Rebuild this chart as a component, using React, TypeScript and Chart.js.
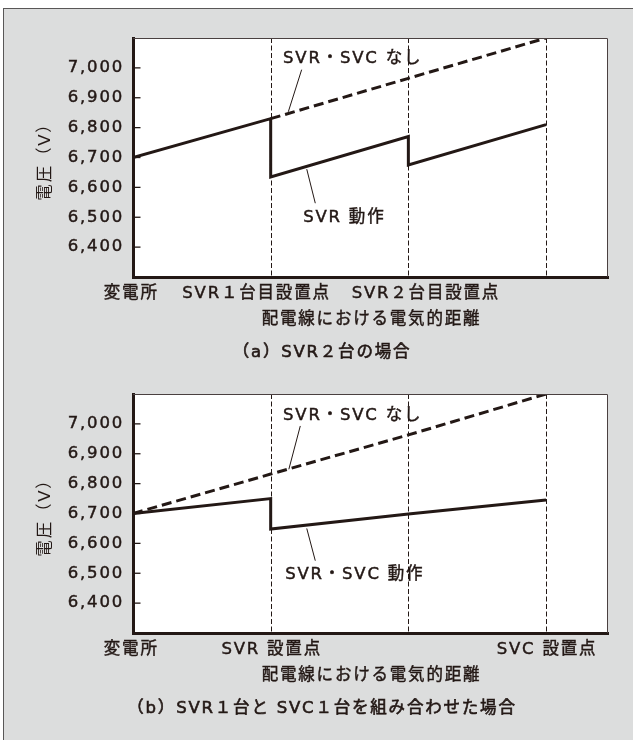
import React, { useEffect, useRef } from 'react';
import { Chart, registerables } from 'chart.js';
Chart.register(...registerables);

const FONT = "'DejaVu Sans', 'Noto Sans CJK JP', sans-serif";
const INK = '#231815';

// shared axes
const yTicks = [6400, 6500, 6600, 6700, 6800, 6900, 7000];
const yMin = 6300;
const yMax = 7100;
const xMin = 0;
const xMax = 3.45;
const yTitle = '電圧（V）';
const xTitle = '配電線における電気的距離';

// (a) two SVRs
const aSolidX = [0, 1, 1, 2, 2, 3];
const aSolidY = [6700, 6830, 6635, 6770, 6675, 6810];
const aDashX = [1, 2, 3];
const aDashY = [6830, 6965, 7100];
const aGuides = [1, 2, 3];
const aLabels = ['変電所', 'SVR１台目設置点', 'SVR２台目設置点'];
const aLabelAt = [-0.02, 0.89, 2.12];
const aCaption = '（a）SVR２台の場合';
const aNoteTexts = ['SVR・SVC なし', 'SVR 動作'];

// (b) one SVR + one SVC
const bSolidX = [0, 1, 1, 2, 3];
const bSolidY = [6700, 6750, 6648, 6698, 6745];
const bDashX = [0, 1, 2, 3];
const bDashY = [6700, 6832, 6963, 7100];
const bGuides = [1, 2, 3];
const bLabels = ['変電所', 'SVR 設置点', 'SVC 設置点'];
const bLabelAt = [-0.02, 1.0, 3.0];
const bCaption = '（b）SVR１台と SVC１台を組み合わせた場合';
const bNoteTexts = ['SVR・SVC なし', 'SVR・SVC 動作'];

// annotation anchors (data units): text x/y, leader start, leader end
const aNoteLayout = [
  { tx: 1.09, ty: 7032, x1: 1.225, y1: 6994, x2: 1.128, y2: 6853 },
  { tx: 1.236, ty: 6500, x1: 1.262, y1: 6661, x2: 1.324, y2: 6547 },
];
const bNoteLayout = [
  { tx: 1.09, ty: 7026, x1: 1.215, y1: 6993, x2: 1.132, y2: 6848 },
  { tx: 1.105, ty: 6494, x1: 1.262, y1: 6650, x2: 1.324, y2: 6542 },
];

const zip = (xs: number[], ys: number[]) => xs.map((x, i) => ({ x, y: ys[i] }));

const SPACING = '1.8px';
const TXT = 16.5;

function drawText(ctx: any, s: string, x: number, y: number, stroke: number) {
  ctx.fillText(s, x, y);
  if (stroke > 0) {
    ctx.lineWidth = stroke;
    ctx.strokeText(s, x, y);
  }
}

const panelPlugin = {
  id: 'panel',
  beforeDraw(chart: any) {
    const { ctx, chartArea: a } = chart;
    ctx.save();
    ctx.fillStyle = '#ffffff';
    ctx.fillRect(a.left, a.top, a.right - a.left, a.bottom - a.top);
    ctx.restore();
    ctx.letterSpacing = SPACING;
  },
  beforeDatasetsDraw(chart: any, _args: any, opts: any) {
    const { ctx, chartArea: a } = chart;
    const xs = chart.scales.x;
    ctx.save();
    ctx.strokeStyle = INK;
    ctx.lineWidth = 1;
    ctx.setLineDash([5, 2.5]);
    for (const g of opts.guides) {
      const px = Math.round(xs.getPixelForValue(g)) + 0.5;
      ctx.beginPath();
      ctx.moveTo(px, a.top);
      ctx.lineTo(px, a.bottom);
      ctx.stroke();
    }
    ctx.restore();
  },
  afterDraw(chart: any, _args: any, opts: any) {
    const { ctx, chartArea: a } = chart;
    const xs = chart.scales.x;
    const ys = chart.scales.y;
    ctx.save();
    ctx.letterSpacing = SPACING;
    // frame top / right
    ctx.strokeStyle = '#4a4040';
    ctx.lineWidth = 1;
    ctx.beginPath();
    ctx.moveTo(a.left, a.top + 0.5);
    ctx.lineTo(a.right - 0.5, a.top + 0.5);
    ctx.lineTo(a.right - 0.5, a.bottom);
    ctx.stroke();
    // inward ticks
    ctx.strokeStyle = INK;
    ctx.lineWidth = 1.3;
    for (const v of yTicks) {
      const py = ys.getPixelForValue(v);
      ctx.beginPath();
      ctx.moveTo(a.left + 1, py);
      ctx.lineTo(a.left + 7.5, py);
      ctx.stroke();
    }
    // annotation leaders + texts
    ctx.fillStyle = INK;
    ctx.font = `${TXT}px ${FONT}`;
    ctx.textBaseline = 'middle';
    opts.notes.forEach((n: any, i: number) => {
      ctx.lineWidth = 1;
      ctx.beginPath();
      ctx.moveTo(xs.getPixelForValue(n.x1), ys.getPixelForValue(n.y1));
      ctx.lineTo(xs.getPixelForValue(n.x2), ys.getPixelForValue(n.y2));
      ctx.stroke();
      ctx.textAlign = 'left';
      drawText(ctx, opts.noteTexts[i], xs.getPixelForValue(n.tx), ys.getPixelForValue(n.ty), 0.45);
    });
    // x category labels
    ctx.textAlign = 'center';
    opts.labels.forEach((t: string, i: number) => {
      drawText(ctx, t, xs.getPixelForValue(opts.labelAt[i]) + 1, a.bottom + 16.5, 0.45);
    });
    // x title
    drawText(ctx, xTitle, (a.left + a.right) / 2 + 1, a.bottom + 43, 0.45);
    // caption
    drawText(ctx, opts.caption, 322, a.bottom + 76, 0.6);
    ctx.restore();
  },
};

type PanelProps = {
  top: number;
  solidX: number[];
  solidY: number[];
  dashX: number[];
  dashY: number[];
  guides: number[];
  labels: string[];
  labelAt: number[];
  caption: string;
  noteTexts: string[];
  notes: any[];
};

function Panel(p: PanelProps) {
  const ref = useRef<HTMLCanvasElement>(null);
  useEffect(() => {
    const chart = new Chart(ref.current as HTMLCanvasElement, {
      type: 'line',
      data: {
        datasets: [
          {
            data: zip(p.dashX, p.dashY),
            borderColor: INK,
            borderWidth: 3,
            borderDash: [10, 5],
            borderCapStyle: 'butt',
            pointRadius: 0,
            tension: 0,
            fill: false,
          },
          {
            data: zip(p.solidX, p.solidY),
            borderColor: INK,
            borderWidth: 3,
            borderJoinStyle: 'miter',
            borderCapStyle: 'butt',
            pointRadius: 0,
            tension: 0,
            fill: false,
          },
        ],
      } as any,
      options: {
        responsive: false,
        animation: false,
        events: [],
        layout: { padding: { left: 32, top: 38, right: 25, bottom: 0 } },
        plugins: {
          legend: { display: false },
          tooltip: { enabled: false },
          panel: {
            guides: p.guides,
            labels: p.labels,
            labelAt: p.labelAt,
            caption: p.caption,
            noteTexts: p.noteTexts,
            notes: p.notes,
          },
        } as any,
        scales: {
          x: {
            type: 'linear',
            min: xMin,
            max: xMax,
            ticks: { display: false },
            grid: { display: true, drawOnChartArea: false, drawTicks: false },
            border: { display: true, width: 3, color: INK },
            afterFit: (s: any) => {
              s.height = 88;
            },
          },
          y: {
            type: 'linear',
            min: yMin,
            max: yMax,
            afterBuildTicks: (s: any) => {
              s.ticks = yTicks.map((v) => ({ value: v }));
            },
            ticks: {
              color: INK,
              padding: 9,
              textStrokeColor: INK,
              textStrokeWidth: 0.45,
              font: { family: FONT, size: TXT },
              callback: (v: any) => Number(v).toLocaleString('en-US'),
            },
            grid: { display: true, drawOnChartArea: false, drawTicks: false },
            border: { display: true, width: 3, color: INK },
            title: {
              display: true,
              text: yTitle,
              color: INK,
              font: { family: FONT, size: TXT },
              padding: { top: 4, bottom: 4 },
            },
            afterFit: (s: any) => {
              s.width = 101;
            },
          },
        } as any,
      },
      plugins: [panelPlugin],
    });
    return () => chart.destroy();
  }, []);
  return (
    <div style={{ position: 'absolute', left: 0, top: p.top, width: 633, height: 365 }}>
      <canvas ref={ref} width={633} height={365} style={{ display: 'block' }} />
    </div>
  );
}

export default function App() {
  return (
    <div
      style={{
        position: 'absolute',
        left: 0,
        top: 0,
        width: 633,
        height: 740,
        overflow: 'hidden',
        background: '#ffffff',
      }}
    >
      <div
        style={{
          position: 'absolute',
          left: 3,
          top: 8,
          width: 660,
          height: 760,
          borderLeft: '1px solid #595757',
          borderTop: '1px solid #595757',
          background: '#dcdddd',
        }}
      />
      <Panel
        top={0}
        solidX={aSolidX}
        solidY={aSolidY}
        dashX={aDashX}
        dashY={aDashY}
        guides={aGuides}
        labels={aLabels}
        labelAt={aLabelAt}
        caption={aCaption}
        noteTexts={aNoteTexts}
        notes={aNoteLayout}
      />
      <Panel
        top={356}
        solidX={bSolidX}
        solidY={bSolidY}
        dashX={bDashX}
        dashY={bDashY}
        guides={bGuides}
        labels={bLabels}
        labelAt={bLabelAt}
        caption={bCaption}
        noteTexts={bNoteTexts}
        notes={bNoteLayout}
      />
    </div>
  );
}
